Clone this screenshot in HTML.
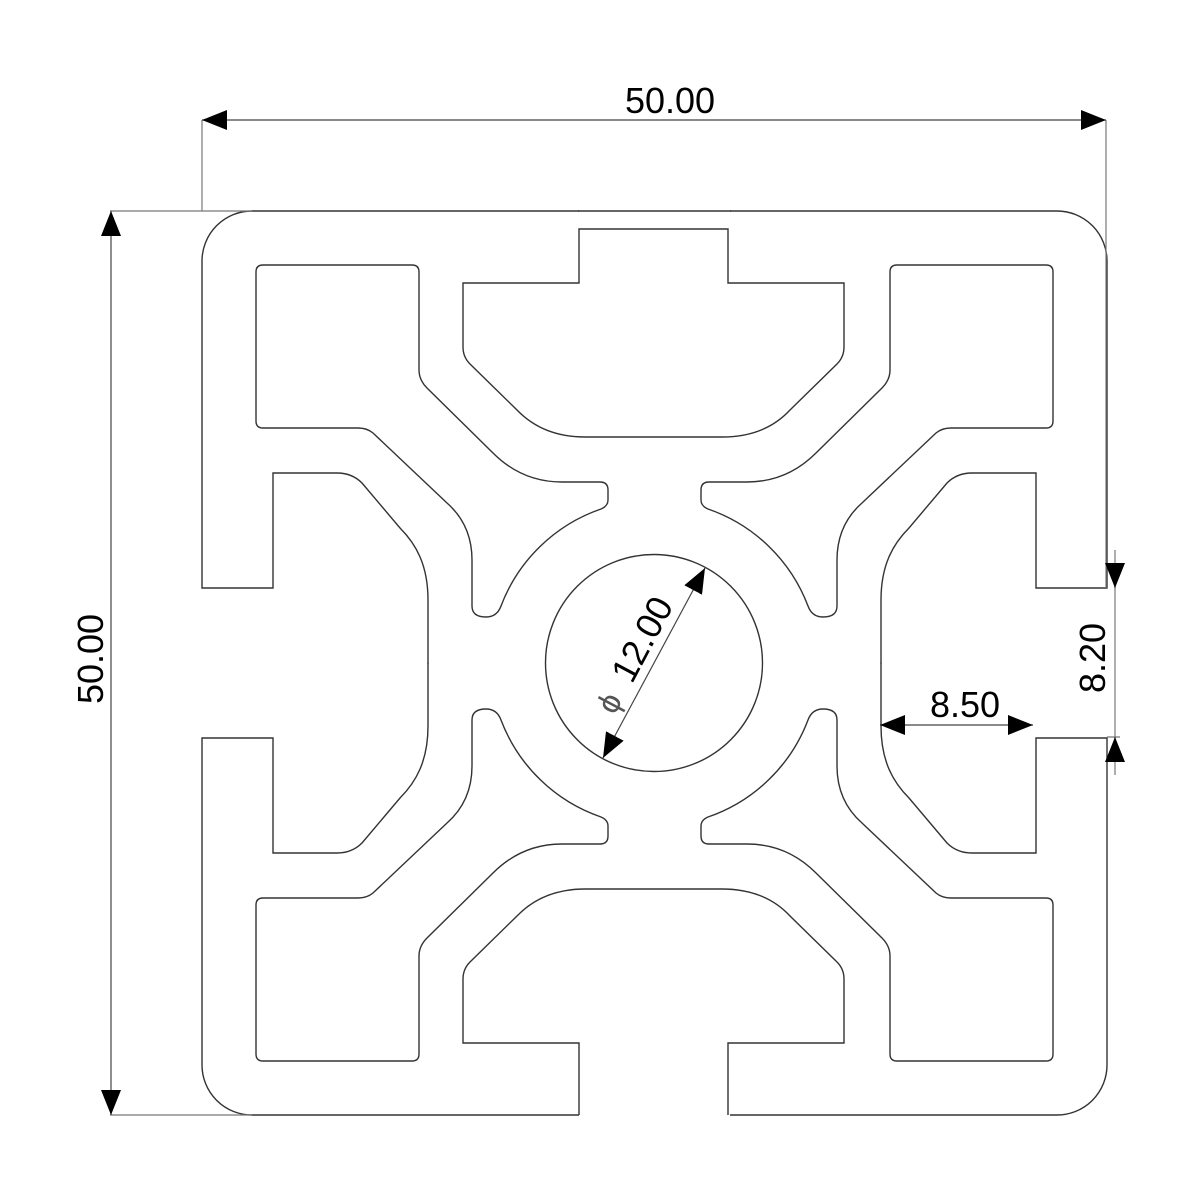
<!DOCTYPE html>
<html><head><meta charset="utf-8"><style>html,body{margin:0;padding:0;background:#fff}svg{display:block}</style></head>
<body>
<svg width="1200" height="1200" viewBox="0 0 1200 1200" xmlns="http://www.w3.org/2000/svg">
<defs>
<g id="q" fill="none" stroke="#333" stroke-width="1.4">
<path d="M263,265 H412 Q419,265 419,272 V370 Q419,380 427,388 L493,453 Q522,482 562,482 H600 Q608,482 608,490 V500 Q608,506 601,509 A164,164 0 0 0 501,606 Q497,617 486,617 Q472,617 472,606 V560 Q472,525 447,503 L373,433 Q367,428 358,428 H263 Q256,428 256,421 V272 Q256,265 263,265 Z"/>
<path d="M579,211 H252 A50,50 0 0 0 202,261 V588 H273 V473 H337 Q352,473 362,483 L400,528 C416,544 428,565 428,600 V663.5"/>
</g>
<marker id="a" viewBox="0 0 25 20" refX="25" refY="10" markerWidth="25" markerHeight="20" markerUnits="userSpaceOnUse" orient="auto-start-reverse"><path d="M0,0 L25,10 L0,20 Z" fill="#000"/></marker>
</defs>
<use href="#q"/>
<use href="#q" transform="translate(1309,0) scale(-1,1)"/>
<use href="#q" transform="translate(0,1326) scale(1,-1)"/>
<use href="#q" transform="translate(1309,1326) scale(-1,-1)"/>
<g fill="none" stroke="#333" stroke-width="1.4">
<path d="M578,211 H731"/>
<path d="M579,229 H728 V283 H844 V347 Q844,357 837,364 L790,410 Q765,437 722,437 H585 Q543,437 517,410 L470,364 Q463,357 463,347 V283 H579 Z"/>
<path d="M579,1115 V1043 H463 V979 Q463,969 470,962 L517,916 Q543,889 585,889 H722 Q765,889 790,916 L837,962 Q844,969 844,979 V1043 H728 V1115"/>
<circle cx="654" cy="663" r="108.5"/>
</g>
<g fill="none" stroke="#777" stroke-width="1.2">
<path d="M202,120 V211 M1106,120 V588 M110,211 H252 M110,1115 H252 M1115,550 V775 M1107,737 H1120"/>
</g>
<g stroke="#444" stroke-width="1.2" fill="none">
<line x1="202" y1="120" x2="1106" y2="120" marker-start="url(#a)" marker-end="url(#a)"/>
<line x1="111" y1="211" x2="111" y2="1115" marker-start="url(#a)" marker-end="url(#a)"/>
<line x1="880" y1="725" x2="1033" y2="725" marker-start="url(#a)" marker-end="url(#a)"/>
<line x1="603" y1="758" x2="705" y2="568" marker-start="url(#a)" marker-end="url(#a)"/>
<line x1="1115" y1="563" x2="1115" y2="588" marker-end="url(#a)"/>
<line x1="1115" y1="762" x2="1115" y2="737" marker-end="url(#a)"/>
</g>
<g font-family="Liberation Sans, sans-serif" font-size="36" fill="#000" text-anchor="middle">
<text x="670" y="113">50.00</text>
<text transform="translate(103,659) rotate(-90)">50.00</text>
<text x="965" y="717">8.50</text>
<text transform="translate(1105,658) rotate(-90)">8.20</text>
<text transform="translate(653,645) rotate(-62)">12.00</text>
<text transform="translate(619,708) rotate(-62)" font-size="32" fill="#555">ϕ</text>
</g>
</svg>
</body></html>
